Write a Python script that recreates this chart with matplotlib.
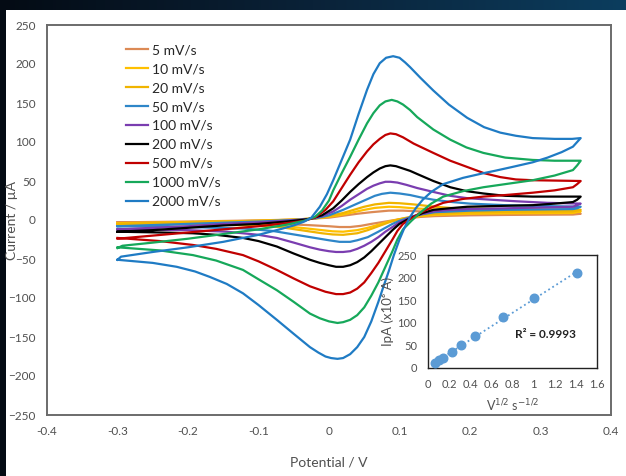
import numpy as np
import matplotlib.pyplot as plt
from matplotlib.colors import LinearSegmentedColormap

# scan rates and colours
rates = ['5 mV/s', '10 mV/s', '20 mV/s', '50 mV/s', '100 mV/s',
         '200 mV/s', '500 mV/s', '1000 mV/s', '2000 mV/s']
colors = ['#DC8A55', '#FFC000', '#F0B400', '#2E86C8', '#7A3DB0',
          '#000000', '#C00000', '#16A85A', '#1F7BC4']

# forward (anodic) sweeps, (potential V, current uA)
fwd_5 = [(-0.3, -3), (-0.2, -2), (-0.1, -0.5), (-0.05, 0.5), (0.0, 3), (0.02, 5.5),
         (0.04, 8), (0.06, 10), (0.085, 12), (0.105, 12), (0.13, 11), (0.16, 10),
         (0.2, 9), (0.28, 8.5), (0.357, 8)]
fwd_10 = [(-0.3, -4), (-0.2, -2.5), (-0.1, -1), (-0.05, 0.5), (-0.02, 2), (0.0, 4),
          (0.02, 7), (0.035, 10), (0.05, 13), (0.065, 15.5), (0.085, 17), (0.1, 16.5),
          (0.12, 15), (0.15, 13.5), (0.2, 12), (0.28, 11.5), (0.357, 11)]
fwd_20 = [(-0.3, -5), (-0.2, -3), (-0.1, -1), (-0.05, 0.5), (-0.02, 2), (0.0, 5),
          (0.02, 9), (0.035, 13), (0.05, 17), (0.065, 20), (0.085, 22), (0.1, 21.5),
          (0.12, 20), (0.15, 17), (0.18, 15), (0.25, 14), (0.357, 13)]
fwd_50 = [(-0.3, -8), (-0.25, -6.5), (-0.2, -5), (-0.15, -3.5), (-0.1, -2), (-0.05, 0),
          (-0.02, 2), (0.0, 6), (0.02, 13), (0.04, 21), (0.055, 27), (0.065, 31),
          (0.075, 33.5), (0.087, 35), (0.1, 34), (0.115, 32), (0.13, 29), (0.148, 26),
          (0.175, 23), (0.2, 21), (0.25, 19), (0.3, 18), (0.357, 17)]
fwd_100 = [(-0.3, -12), (-0.25, -10), (-0.2, -8), (-0.15, -5), (-0.1, -3), (-0.06, -1),
           (-0.03, 1), (-0.01, 5), (0.006, 11), (0.018, 18), (0.03, 26), (0.042, 33),
           (0.054, 40), (0.063, 44), (0.072, 47), (0.08, 49), (0.087, 49), (0.097, 48),
           (0.11, 45), (0.125, 41), (0.148, 36), (0.172, 31), (0.196, 28), (0.23, 26),
           (0.266, 24), (0.31, 22), (0.357, 21)]
fwd_200 = [(-0.3, -15), (-0.25, -13), (-0.2, -10), (-0.15, -7), (-0.1, -5), (-0.06, -2),
           (-0.03, 1), (-0.01, 6), (0.006, 15), (0.018, 25), (0.03, 36), (0.042, 46),
           (0.054, 55), (0.063, 61), (0.072, 66), (0.08, 69), (0.087, 70), (0.095, 69),
           (0.105, 66), (0.115, 63), (0.125, 59), (0.148, 50), (0.172, 42), (0.195, 37),
           (0.219, 34), (0.25, 31), (0.289, 30), (0.357, 30)]
fwd_500 = [(-0.3, -24), (-0.25, -20), (-0.2, -16), (-0.15, -12), (-0.1, -8), (-0.06, -4),
           (-0.035, -1), (-0.02, 3), (-0.005, 13), (0.006, 24), (0.018, 41), (0.03, 58),
           (0.042, 74), (0.054, 88), (0.063, 97), (0.072, 104), (0.08, 109), (0.087, 111),
           (0.095, 110), (0.105, 106), (0.12, 98), (0.148, 86), (0.172, 76), (0.196, 68),
           (0.22, 60), (0.243, 55), (0.265, 52), (0.289, 51), (0.357, 50)]
fwd_1000 = [(-0.3, -36), (-0.293, -33), (-0.25, -29), (-0.2, -24), (-0.15, -18),
            (-0.1, -12), (-0.06, -6), (-0.035, -1), (-0.02, 4), (-0.01, 12), (0.0, 25),
            (0.006, 38), (0.018, 60), (0.03, 81), (0.042, 103), (0.054, 124), (0.063, 137),
            (0.072, 147), (0.08, 152), (0.089, 154), (0.097, 152), (0.105, 148),
            (0.115, 141), (0.125, 132), (0.148, 116), (0.172, 103), (0.195, 93),
            (0.219, 86), (0.25, 80), (0.289, 77), (0.32, 76), (0.357, 76)]
fwd_2000 = [(-0.3, -51), (-0.295, -47), (-0.25, -41), (-0.2, -35), (-0.15, -28),
            (-0.1, -19), (-0.07, -12), (-0.05, -7), (-0.035, -2), (-0.025, 3),
            (-0.013, 17), (-0.003, 33), (0.006, 51), (0.018, 77), (0.03, 103),
            (0.042, 136), (0.054, 167), (0.063, 187), (0.072, 201), (0.081, 208),
            (0.091, 210), (0.1, 208), (0.108, 202), (0.115, 196), (0.13, 182),
            (0.148, 166), (0.17, 148), (0.196, 131), (0.22, 119), (0.243, 112),
            (0.265, 108), (0.289, 105), (0.32, 104), (0.345, 104), (0.357, 105)]

# reverse (cathodic) sweeps
rev_5 = [(0.357, 8), (0.346, 7), (0.25, 6.5), (0.2, 6), (0.15, 5), (0.13, 4),
         (0.115, 2.5), (0.1, 1), (0.08, -2), (0.06, -5), (0.045, -7.5), (0.03, -9),
         (0.015, -9), (0.0, -8), (-0.03, -6.5), (-0.07, -5), (-0.15, -3.5), (-0.3, -3)]
rev_10 = [(0.357, 11), (0.346, 9), (0.25, 8.5), (0.2, 8), (0.15, 6.5), (0.13, 5),
          (0.115, 3), (0.1, 1), (0.085, -2), (0.07, -6), (0.055, -10), (0.04, -13),
          (0.02, -15), (0.005, -14.5), (-0.01, -13), (-0.04, -10), (-0.07, -7),
          (-0.1, -6), (-0.15, -5), (-0.3, -4)]
rev_20 = [(0.357, 13), (0.346, 11), (0.25, 10.5), (0.2, 10), (0.15, 8), (0.13, 6),
          (0.115, 4), (0.1, 1), (0.085, -3), (0.07, -8), (0.055, -13), (0.04, -17),
          (0.02, -19), (0.005, -18.5), (-0.01, -17), (-0.04, -13), (-0.07, -9),
          (-0.1, -7.5), (-0.15, -6), (-0.3, -5)]
rev_50 = [(0.357, 17), (0.352, 15), (0.346, 14), (0.3, 13.5), (0.25, 13), (0.2, 12),
          (0.15, 10), (0.13, 7), (0.12, 5), (0.11, 2), (0.1, -1), (0.09, -5), (0.08, -10),
          (0.07, -15), (0.055, -22), (0.04, -26), (0.03, -28), (0.015, -28), (0.0, -26),
          (-0.02, -23), (-0.04, -20), (-0.08, -14), (-0.12, -11), (-0.2, -9), (-0.3, -8)]
rev_100 = [(0.357, 21), (0.352, 19), (0.346, 17), (0.3, 16), (0.25, 15), (0.196, 14),
           (0.17, 13), (0.148, 11), (0.133, 8), (0.12, 5), (0.11, 1), (0.1, -3),
           (0.09, -9), (0.08, -15), (0.07, -22), (0.06, -28), (0.05, -33), (0.04, -37),
           (0.03, -40), (0.02, -41), (0.01, -41), (0.0, -40), (-0.013, -38),
           (-0.027, -35), (-0.05, -29), (-0.074, -23), (-0.1, -19), (-0.145, -15),
           (-0.2, -13), (-0.3, -12)]
rev_200 = [(0.357, 30), (0.352, 26), (0.346, 23), (0.32, 21), (0.289, 19), (0.24, 18),
           (0.196, 17), (0.17, 15), (0.148, 13), (0.133, 9), (0.12, 4), (0.11, 0),
           (0.1, -5), (0.09, -13), (0.08, -22), (0.07, -31), (0.06, -40), (0.05, -48),
           (0.04, -54), (0.03, -58), (0.02, -60), (0.01, -60), (0.0, -58), (-0.013, -55),
           (-0.027, -51), (-0.05, -43), (-0.074, -34), (-0.1, -27), (-0.122, -23),
           (-0.16, -19), (-0.193, -17), (-0.24, -16), (-0.3, -15)]
rev_500 = [(0.357, 50), (0.352, 46), (0.346, 42), (0.32, 38), (0.289, 35), (0.25, 32),
           (0.219, 30), (0.19, 27), (0.162, 22), (0.145, 16), (0.129, 9), (0.117, 2),
           (0.105, -5), (0.097, -14), (0.09, -25), (0.08, -40), (0.07, -55), (0.06, -68),
           (0.05, -80), (0.04, -88), (0.03, -93), (0.02, -95), (0.01, -95), (-0.005, -92),
           (-0.027, -85), (-0.05, -75), (-0.074, -64), (-0.1, -53), (-0.122, -45),
           (-0.16, -37), (-0.193, -32), (-0.24, -27), (-0.3, -23)]
rev_1000 = [(0.357, 76), (0.352, 70), (0.346, 64), (0.32, 57), (0.289, 51), (0.25, 46),
            (0.219, 42), (0.19, 37), (0.162, 30), (0.145, 21), (0.129, 9), (0.117, -1),
            (0.105, -12), (0.097, -25), (0.09, -40), (0.08, -60), (0.07, -80),
            (0.06, -97), (0.05, -112), (0.04, -122), (0.03, -128), (0.02, -131),
            (0.012, -132), (0.0, -130), (-0.013, -126), (-0.027, -120), (-0.05, -105),
            (-0.074, -90), (-0.1, -76), (-0.122, -64), (-0.16, -52), (-0.193, -45),
            (-0.24, -39), (-0.3, -35)]
rev_2000 = [(0.357, 105), (0.352, 100), (0.346, 94), (0.33, 87), (0.31, 80), (0.289, 74),
            (0.26, 68), (0.235, 63), (0.219, 60), (0.19, 54), (0.162, 46), (0.145, 36),
            (0.133, 26), (0.123, 15), (0.115, 4), (0.107, -10), (0.1, -25), (0.092, -45),
            (0.085, -65), (0.077, -86), (0.07, -105), (0.06, -130), (0.05, -150),
            (0.04, -163), (0.03, -172), (0.02, -177), (0.012, -178), (0.003, -177),
            (-0.005, -175), (-0.015, -170), (-0.027, -163), (-0.05, -146), (-0.074, -128),
            (-0.1, -109), (-0.122, -94), (-0.145, -82), (-0.169, -73), (-0.19, -66),
            (-0.216, -60), (-0.25, -55), (-0.3, -51)]

forward = [fwd_5, fwd_10, fwd_20, fwd_50, fwd_100, fwd_200, fwd_500, fwd_1000, fwd_2000]
reverse = [rev_5, rev_10, rev_20, rev_50, rev_100, rev_200, rev_500, rev_1000, rev_2000]

# inset: peak current vs sqrt(scan rate)
sqrt_v = [0.0707, 0.1, 0.1414, 0.2236, 0.3162, 0.4472, 0.7071, 1.0, 1.4142]
ipa = [12, 17, 22, 35, 50, 70, 112, 155, 210]

plt.rcParams['font.family'] = ['Lato', 'DejaVu Sans']
txt = '#505050'

fig = plt.figure(figsize=(6.26, 4.76), dpi=100)
fig.patch.set_facecolor('white')

# dark slide border (top strip gradient, left strip)
top = fig.add_axes([0, 1 - 10 / 476, 1, 10 / 476])
grad = np.linspace(0, 1, 256).reshape(1, -1)
cm = LinearSegmentedColormap.from_list('bg', ['#040b14', '#0a2238', '#0c3d5e'])
top.imshow(grad, aspect='auto', cmap=cm)
top.axis('off')
left = fig.add_axes([0, 0, 6 / 626, 1])
left.set_facecolor('#040b14')
left.set_xticks([])
left.set_yticks([])
for s in left.spines.values():
    s.set_visible(False)

ax = fig.add_axes([47 / 626, 1 - 415 / 476, 564 / 626, 390 / 476])
for i in range(len(rates)):
    pts = np.array(forward[i] + reverse[i])
    ax.plot(pts[:, 0], pts[:, 1], color=colors[i], lw=1.6, label=rates[i],
            solid_joinstyle='round')

ax.set_xlim(-0.4, 0.4)
ax.set_ylim(-250, 250)
ax.set_xticks(np.arange(-0.4, 0.41, 0.1))
ax.set_xticklabels(['-0.4', '-0.3', '-0.2', '-0.1', '0', '0.1', '0.2', '0.3', '0.4'])
ax.set_yticks(np.arange(-250, 251, 50))
ax.tick_params(length=0, labelsize=8.5, colors=txt, pad=8)
for s in ax.spines.values():
    s.set_color('#6b6b6b')
    s.set_linewidth(1.4)
ax.set_xlabel('Potential / V', fontsize=10, color=txt, labelpad=14)
ax.set_ylabel('Current / µA', fontsize=10, color=txt)
ax.yaxis.set_label_coords(-0.051, 0.5)
leg = ax.legend(loc='upper left', bbox_to_anchor=(0.13, 0.965), frameon=False,
                fontsize=10, labelspacing=0.5, handlelength=1.6, handletextpad=0.25,
                borderaxespad=0)
for t in leg.get_texts():
    t.set_color('#262626')

# inset
ins = fig.add_axes([428 / 626, 1 - 368 / 476, 169 / 626, 113 / 476])
ins.scatter(sqrt_v, ipa, s=38, color='#5B9BD5', zorder=3)
k, b = np.polyfit(sqrt_v, ipa, 1)
xs = np.array([min(sqrt_v), max(sqrt_v)])
ins.plot(xs, k * xs + b, ':', color='#5B9BD5', lw=1.3)
ins.set_xlim(0, 1.6)
ins.set_ylim(0, 250)
ins.set_xticks(np.arange(0, 1.61, 0.2))
ins.set_xticklabels(['0', '0.2', '0.4', '0.6', '0.8', '1', '1.2', '1.4', '1.6'])
ins.set_yticks(np.arange(0, 251, 50))
ins.tick_params(length=0, labelsize=8, colors=txt, pad=8)
for s in ins.spines.values():
    s.set_color('#222222')
    s.set_linewidth(1.0)
ins.set_xlabel('V$^{1/2}$ s$^{-1/2}$', fontsize=9, color=txt, labelpad=5)
ins.set_ylabel('IpA (x10⁶ A)', fontsize=9.5, color=txt)
ins.yaxis.set_label_coords(-0.2, 0.5)
ins.text(0.82, 74, 'R² = 0.9993', fontsize=8.5, fontweight='bold', color='#222222',
         va='center')

fig.savefig('out.png', dpi=100, facecolor=fig.get_facecolor())
